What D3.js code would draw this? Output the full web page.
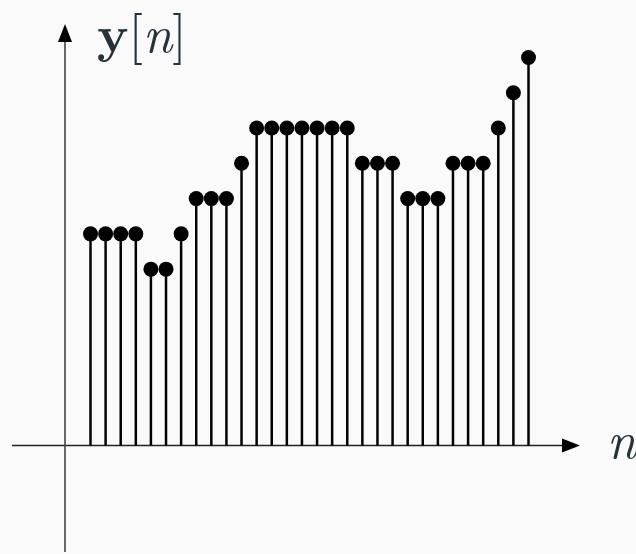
<!DOCTYPE html>
<html><head><meta charset="utf-8">
<script src="https://cdn.jsdelivr.net/npm/d3@7"></script>
<style>html,body{margin:0;padding:0;background:#fafafa;overflow:hidden}</style>
</head><body>
<script>
const samples = d3.range(30);
const values = [6,6,6,6,5,5,6,7,7,7,8,9,9,9,9,9,9,9,8,8,8,7,7,7,8,8,8,9,10,11];
const yLabelParts = ["y", "[", "n", "]"];
const xLabel = "n";

const W = 636, H = 554;
const svg = d3.select("body").append("svg").attr("width", W).attr("height", H);
svg.append("rect").attr("width", W).attr("height", H).attr("fill", "#fafafa");

const x = d3.scaleLinear().domain([0, 29]).range([90.5, 528.5]);
const y = d3.scaleLinear().domain([0, 11]).range([445.5, 57.5]);

// axes
svg.append("line").attr("x1", 12).attr("x2", 566).attr("y1", y(0)).attr("y2", y(0))
  .attr("stroke", "#222").attr("stroke-width", 1.6);
svg.append("path").attr("d", `M580,${y(0)} L562,${y(0)-7} L562,${y(0)+7} Z`).attr("fill", "#000");
svg.append("line").attr("x1", 65).attr("x2", 65).attr("y1", 552).attr("y2", 40)
  .attr("stroke", "#444").attr("stroke-width", 1.6);
svg.append("path").attr("d", `M65,24 L58,42 L72,42 Z`).attr("fill", "#000");

// stems
svg.selectAll("line.stem").data(samples).enter().append("line").attr("class", "stem")
  .attr("x1", d => x(d)).attr("x2", d => x(d))
  .attr("y1", y(0)).attr("y2", d => y(values[d]))
  .attr("stroke", "#000").attr("stroke-width", 2.5);
svg.selectAll("circle.dot").data(samples).enter().append("circle").attr("class", "dot")
  .attr("cx", d => x(d)).attr("cy", d => y(values[d])).attr("r", 7.5).attr("fill", "#000");

// labels
const font = "'Latin Modern Roman','DejaVu Serif','Liberation Serif',serif";
const t = svg.append("text").attr("x", 97).attr("y", 52).attr("font-family", font)
  .attr("font-size", 52).attr("fill", "#263238");
t.append("tspan").attr("font-weight", "bold").text(yLabelParts[0]);
t.append("tspan").text(yLabelParts[1]);
t.append("tspan").attr("font-style", "italic").text(yLabelParts[2]);
t.append("tspan").text(yLabelParts[3]);

svg.append("text").attr("x", 607).attr("y", 458).attr("font-family", font)
  .attr("font-size", 52).attr("font-style", "italic").attr("fill", "#263238").text(xLabel);
</script>
</body></html>
